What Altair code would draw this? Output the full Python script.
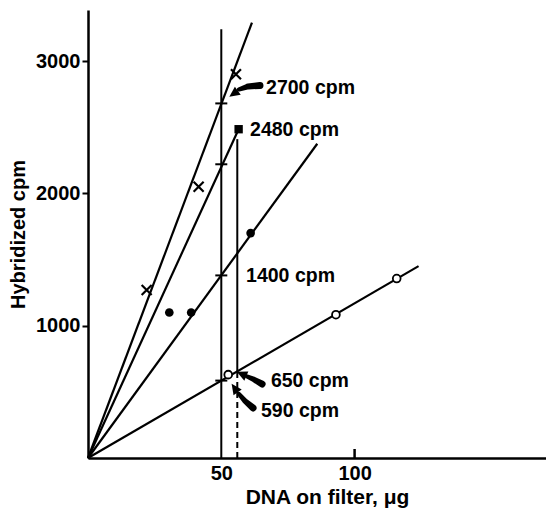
import altair as alt
import pandas as pd

# ---- data ----
line_id = ["L1", "L2", "L3", "L4"]
line_end_x = [61.5, 56.5, 86.0, 124.0]
line_end_y = [3290, 2485, 2375, 1450]

cross_x = [22.0, 41.5, 55.5]
cross_y = [1270, 2050, 2900]
filled_x = [30.5, 38.7, 61.0]
filled_y = [1100, 1100, 1700]
open_x = [52.6, 93.0, 115.8]
open_y = [630, 1083, 1356]
square_x = [56.5]
square_y = [2485]

dash_x = [50, 50, 50, 50]
dash_y = [2680, 2220, 1380, 585]

# vertical reference lines
vline_x = [50, 56]
vline_y0 = [0, 655]
vline_y1 = [3240, 2410]
dashed_x = [56]
dashed_y0 = [0]
dashed_y1 = [655]
tick100_x = [100]
tick100_y1 = [68]

label_text = ["2700 cpm", "2480 cpm", "1400 cpm", "650 cpm", "590 cpm"]
label_x = [66.8, 60.8, 59.3, 68.6, 64.9]
label_y = [2797, 2479, 1376, 582, 355]

# arrow shafts (tail -> neck) and heads
shaft_id = ["a"] * 3 + ["b"] * 3 + ["c"] * 3
shaft_order = [0, 1, 2] * 3
shaft_x = [64.5, 60.0, 56.6,
           65.3, 62.3, 59.6,
           61.9, 58.9, 56.6]
shaft_y = [2816, 2808, 2785,
           559, 593, 617,
           378, 431, 485]
shaft_w = [7, 6, 4,
           7, 5.5, 4,
           7, 5.5, 4]
head_x = [54.6, 57.6, 55.0]
head_y = [2753, 635, 529]
head_angle = [234, 294, 325]

XMAX, YMAX = 171.8, 3386
FONT = "Liberation Sans"

xs = alt.Scale(domain=[0, XMAX], nice=False, zero=False)
ys = alt.Scale(domain=[0, YMAX], nice=False, zero=False)

x_axis = alt.Axis(values=[50, 100], title="DNA on filter, μg", grid=False, format="d",
                  domainColor="black", domainWidth=2.5, tickSize=0,
                  labelPadding=5, labelFont=FONT, labelFontSize=20,
                  labelFontWeight="bold", labelColor="black",
                  titleFont=FONT, titleFontSize=21, titleFontWeight="bold",
                  titleColor="black", titleX=239, titleY=39,
                  titleBaseline="middle")
y_axis = alt.Axis(values=[1000, 2000, 3000], title="Hybridized cpm", grid=False, format="d",
                  domainColor="black", domainWidth=2.5, tickSize=6,
                  tickWidth=2, tickColor="black", labelPadding=2,
                  labelFont=FONT, labelFontSize=20, labelFontWeight="bold",
                  labelColor="black", titleFont=FONT, titleFontSize=20,
                  titleFontWeight="bold", titleColor="black",
                  titleX=-70, titleY=224, titleAlign="center",
                  titleBaseline="middle")


def X(field="x"):
    return alt.X(f"{field}:Q", scale=xs, axis=x_axis, title="DNA on filter, μg")


def Y(field="y"):
    return alt.Y(f"{field}:Q", scale=ys, axis=y_axis, title="Hybridized cpm")


# lines from origin
rows = []
for i, lid in enumerate(line_id):
    rows.append({"id": lid, "k": 0, "x": 0, "y": 0})
    rows.append({"id": lid, "k": 1, "x": line_end_x[i], "y": line_end_y[i]})
lines_df = pd.DataFrame(rows)

base_lines = alt.Chart(lines_df).mark_line(color="black", strokeWidth=2.2).encode(
    x=X(), y=Y(), detail="id:N", order="k:Q")

vl_df = pd.DataFrame({"x": vline_x, "y": vline_y0, "y1": vline_y1})
vlines = alt.Chart(vl_df).mark_rule(color="black", strokeWidth=2).encode(
    x=X(), y=Y(), y2="y1:Q")

dl_df = pd.DataFrame({"x": dashed_x, "y": dashed_y0, "y1": dashed_y1})
dlines = alt.Chart(dl_df).mark_rule(color="black", strokeWidth=2, strokeDash=[6, 4]).encode(
    x=X(), y=Y(), y2="y1:Q")

t_df = pd.DataFrame({"x": tick100_x, "y": [0], "y1": tick100_y1})
t100 = alt.Chart(t_df).mark_rule(color="black", strokeWidth=2.5).encode(
    x=X(), y=Y(), y2="y1:Q")

dash_df = pd.DataFrame({"x": dash_x, "y": dash_y})
dashes = alt.Chart(dash_df).mark_point(shape="M-1,0L1,0", size=144, filled=False,
                                       color="black", strokeWidth=2, opacity=1).encode(
    x=X(), y=Y())

cr_df = pd.DataFrame({"x": cross_x, "y": cross_y})
crosses = alt.Chart(cr_df).mark_point(shape="M-1,-1L1,1M-1,1L1,-1", size=100, filled=False,
                                      color="black", strokeWidth=2.2, opacity=1).encode(
    x=X(), y=Y())

fi_df = pd.DataFrame({"x": filled_x, "y": filled_y})
filled = alt.Chart(fi_df).mark_circle(size=75, color="black", opacity=1).encode(
    x=X(), y=Y())

op_df = pd.DataFrame({"x": open_x, "y": open_y})
opened = alt.Chart(op_df).mark_point(shape="circle", size=60, filled=True, fill="white",
                                     stroke="black", strokeWidth=1.8, opacity=1).encode(
    x=X(), y=Y())

sq_df = pd.DataFrame({"x": square_x, "y": square_y})
square = alt.Chart(sq_df).mark_square(size=70, color="black", opacity=1).encode(
    x=X(), y=Y())

sh_df = pd.DataFrame({"id": shaft_id, "o": shaft_order, "x": shaft_x, "y": shaft_y, "w": shaft_w})
shafts = alt.Chart(sh_df).mark_trail(color="black").encode(
    x=X(), y=Y(), size=alt.Size("w:Q", scale=None, legend=None),
    detail="id:N", order="o:Q")

hd_df = pd.DataFrame({"x": head_x, "y": head_y, "a": head_angle})
heads = alt.Chart(hd_df).mark_point(shape="M0,-1L0.95,1L-0.95,1Z", size=110, filled=True,
                                    color="black", opacity=1).encode(
    x=X(), y=Y(), angle=alt.Angle("a:Q", scale=None))

lb_df = pd.DataFrame({"t": label_text, "x": label_x, "y": label_y})
labels = alt.Chart(lb_df).mark_text(align="left", baseline="middle", font=FONT,
                                    fontSize=19.5, fontWeight="bold", color="black").encode(
    x=X(), y=Y(), text="t:N")

chart = alt.layer(base_lines, vlines, dlines, t100, dashes, crosses, filled, opened,
                  square, shafts, heads, labels).properties(
    width=458, height=448,
    padding={"left": 80, "top": 2, "right": 0, "bottom": 50},
    autosize=alt.AutoSizeParams(type="none"),
    background="white",
).configure_view(stroke=None)

chart.save("out.html", embed_options={"renderer": "svg", "actions": False})
